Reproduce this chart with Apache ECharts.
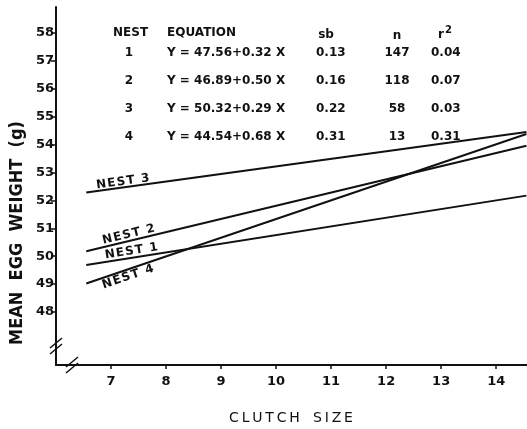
<!DOCTYPE html>
<html>
<head>
<meta charset="utf-8">
<script src="https://cdn.jsdelivr.net/npm/echarts@6/dist/echarts.min.js"></script>
<style>html,body{margin:0;padding:0;background:#fff}#c{width:527px;height:429px}</style>
</head>
<body>
<div id="c"></div>
<script>
// ---- data ----
const xTicks = [7, 8, 9, 10, 11, 12, 13, 14];
const yTicks = [48, 49, 50, 51, 52, 53, 54, 55, 56, 57, 58];
const lineX = [6.55, 14.55];
const nest1 = [49.68, 52.17];
const nest2 = [50.18, 53.96];
const nest3 = [52.28, 54.45];
const nest4 = [49.02, 54.38];
const nestNames = ['NEST 1', 'NEST 2', 'NEST 3', 'NEST 4'];
const tableNest = ['1', '2', '3', '4'];
const tableEq = ['Y = 47.56+0.32 X', 'Y = 46.89+0.50 X', 'Y = 50.32+0.29 X', 'Y = 44.54+0.68 X'];
const tableSb = ['0.13', '0.16', '0.22', '0.31'];
const tableN = ['147', '118', '58', '13'];
const tableR2 = ['0.04', '0.07', '0.03', '0.31'];
const xTitle = 'CLUTCH SIZE';
const yTitle = 'MEAN EGG WEIGHT (g)';

const FONT = '"DejaVu Sans", "Liberation Sans", sans-serif';
const CFONT = '"DejaVu Sans Condensed", "DejaVu Sans", sans-serif';
const nests = [nest1, nest2, nest3, nest4];

const chart = echarts.init(document.getElementById('c'), null, {renderer: 'canvas'});
chart.setOption({
  animation: false,
  backgroundColor: '#fff',
  grid: {left: 56, right: 0, top: 7, bottom: 64, containLabel: false, outerBoundsMode: 'none'},
  xAxis: {
    type: 'value', min: 6, max: 14.56,
    axisLine: {lineStyle: {color: '#111', width: 2}},
    axisTick: {customValues: xTicks, length: 4, inside: false, lineStyle: {color: '#111', width: 1.5}},
    axisLabel: {customValues: xTicks, fontFamily: FONT, fontSize: 13, fontWeight: 'bold', color: '#111', margin: 10},
    splitLine: {show: false}
  },
  yAxis: {
    type: 'value', min: 46.1, max: 58.93,
    axisLine: {lineStyle: {color: '#111', width: 2}},
    axisTick: {customValues: yTicks, length: 5, lineStyle: {color: '#111', width: 1.5}},
    axisLabel: {customValues: yTicks, fontFamily: FONT, fontSize: 13, fontWeight: 'bold', color: '#111', margin: 2},
    splitLine: {show: false}
  },
  series: nests.map((ys, i) => ({
    type: 'line', name: nestNames[i],
    data: lineX.map((x, k) => [x, ys[k]]),
    symbol: 'none', lineStyle: {color: '#111', width: 2}, silent: true, clip: false
  }))
});

// ---- annotations ----
const g = [];
function txt(x, y, text, opts) {
  g.push(Object.assign({type: 'text', x: x, y: y, silent: true,
    style: Object.assign({text: text, fill: '#111', font: 'bold 12px ' + FONT, align: 'left', verticalAlign: 'middle'}, opts || {})}));
}
const spaced = s => s.split(' ').map(w => w.split('').join('\u2009')).join('   ');
// axis titles
txt(291, 418, spaced(xTitle), {align: 'center', font: '14px ' + FONT});
g.push({type: 'text', x: 17, y: 233, rotation: Math.PI / 2, silent: true,
  style: {text: yTitle.split(' ').join('  '), fill: '#111', font: 'bold 18px ' + CFONT, align: 'center', verticalAlign: 'middle'}});

// table
const rowY = [53, 81, 109, 137];
txt(113, 33, 'NEST');
txt(167, 33, 'EQUATION');
txt(326, 35, 'sb', {align: 'center'});
txt(397, 36, 'n', {align: 'center'});
g.push({type: 'text', x: 445, y: 33, silent: true, style: {
  text: '{a|r}{b|2}', align: 'center', verticalAlign: 'middle',
  rich: {a: {font: 'bold 12px ' + FONT, fill: '#111', verticalAlign: 'bottom'},
         b: {font: 'bold 10px ' + FONT, fill: '#111', verticalAlign: 'top', padding: [0, 0, 6, 1]}}}});
rowY.forEach((y, i) => {
  txt(129, y, tableNest[i], {align: 'center'});
  txt(167, y, tableEq[i]);
  txt(316, y, tableSb[i]);
  txt(397, y, tableN[i], {align: 'center'});
  txt(431, y, tableR2[i]);
});

// line labels, positioned along each line
const labelAt = [7.35, 7.29, 7.2, 7.36];
const labelOff = [-7, -7, -6, 9];
nests.forEach((ys, i) => {
  const p0 = chart.convertToPixel({gridIndex: 0}, [lineX[0], ys[0]]);
  const p1 = chart.convertToPixel({gridIndex: 0}, [lineX[1], ys[1]]);
  const ang = Math.atan2(p0[1] - p1[1], p1[0] - p0[0]);
  const t = (labelAt[i] - lineX[0]) / (lineX[1] - lineX[0]);
  const px = p0[0] + t * (p1[0] - p0[0]);
  const py = p0[1] + t * (p1[1] - p0[1]);
  g.push({type: 'text', x: px - labelOff[i] * Math.sin(ang), y: py + labelOff[i] * Math.cos(ang), rotation: ang, silent: true,
    style: {text: nestNames[i].split('').join('\u200a'), fill: '#111', font: 'bold 12px ' + FONT, align: 'center', verticalAlign: 'middle'}});
});

// axis break marks
const o = chart.convertToPixel({gridIndex: 0}, [6, 46.1]);
function brk(cx, cy) {
  [-3, 3].forEach(d => {
    g.push({type: 'line', silent: true, shape: {x1: cx - 6, y1: cy + d + 5, x2: cx + 6, y2: cy + d - 5},
      style: {stroke: '#111', lineWidth: 1.5}});
  });
}
g.push({type: 'rect', silent: true, shape: {x: o[0] - 2, y: o[1] - 21, width: 4, height: 4}, style: {fill: '#fff'}});
brk(o[0], o[1] - 19);
g.push({type: 'rect', silent: true, shape: {x: o[0] + 13, y: o[1] - 2, width: 5, height: 4}, style: {fill: '#fff'}});
brk(o[0] + 16, o[1]);

chart.setOption({graphic: g});
</script>
</body>
</html>
